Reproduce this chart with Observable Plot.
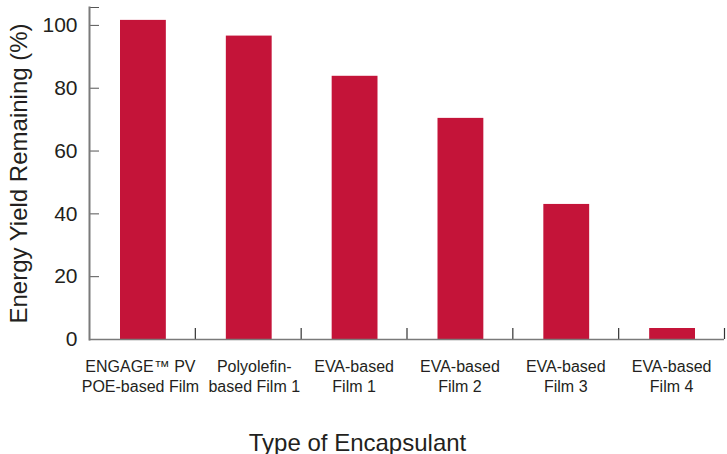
<!DOCTYPE html>
<html>
<head>
<meta charset="utf-8">
<script src="https://cdn.jsdelivr.net/npm/d3@7"></script>
<script src="https://cdn.jsdelivr.net/npm/@observablehq/plot@0.6"></script>
<style>
  html, body { margin: 0; padding: 0; background: #fff; }
  svg { display: block; }
</style>
</head>
<body>
<div id="chart"></div>
<script>
const categories = [
  "ENGAGE™ PV\nPOE-based Film",
  "Polyolefin-\nbased Film 1",
  "EVA-based\nFilm 1",
  "EVA-based\nFilm 2",
  "EVA-based\nFilm 3",
  "EVA-based\nFilm 4"
];
const values = [101.6, 96.6, 83.8, 70.4, 43.0, 3.5];
const yTicks = [0, 20, 40, 60, 80, 100];
const yMax = 105.7;
const xTitle = "Type of Encapsulant";
const yTitle = "Energy Yield Remaining (%)";

const data = categories.map((c, i) => ({category: c, value: values[i]}));

const W = 727, H = 454;
const mL = 89, mR = 3, mT = 7, mB = 115;
const bandW = (W - mL - mR) / categories.length;
const font = "'Liberation Sans', Arial, Helvetica, sans-serif";
const ink = "#231f20";
const axisGrey = "#7a7a7a";

const labelOpts = {tickSize: 0, tickPadding: 18, fontSize: 16, lineHeight: 1.25, fill: ink, label: null};

const chart = Plot.plot({
  width: W,
  height: H,
  marginLeft: mL,
  marginRight: mR,
  marginTop: mT,
  marginBottom: mB,
  style: {fontFamily: font, color: ink, background: "#fff"},
  x: {domain: categories, padding: 0, round: false},
  y: {domain: [0, yMax]},
  marks: [
    Plot.barY(data, {x: "category", y: "value", fill: "#c41439", insetLeft: 31, insetRight: 29}),
    // y ticks (inward) and labels
    Plot.axisY({
      ticks: [...yTicks, yMax],
      tickSize: -10,
      tickPadding: 22,
      tickFormat: d => yTicks.includes(d) ? String(d) : "",
      fontSize: 21,
      stroke: "#555",
      fill: ink,
      label: null
    }),
    // x tick marks at band boundaries (inward)
    Plot.ruleX(categories, {x: d => d, y1: 0, y2: 11 * yMax / (H - mT - mB), dx: bandW / 2, stroke: "#333", strokeWidth: 1.2}),
    // x tick labels
    Plot.axisX({...labelOpts, ticks: categories.filter((d, i) => i > 1)}),
    Plot.axisX({...labelOpts, ticks: [categories[0]], dx: -2}),
    Plot.axisX({...labelOpts, ticks: [categories[1]], dx: 6}),
    // axis lines (drawn last so nothing covers them)
    Plot.ruleY([0], {stroke: axisGrey, strokeWidth: 1.6}),
    Plot.frame({anchor: "left", stroke: axisGrey, strokeWidth: 2}),
    // axis titles
    Plot.text([xTitle], {frameAnchor: "bottom", lineAnchor: "bottom", dy: 111, dx: -49.5, fontSize: 24, fill: ink}),
    Plot.text([yTitle], {frameAnchor: "left", textAnchor: "middle", rotate: -90, lineAnchor: "middle", dx: -70, fontSize: 24, fill: ink})
  ]
});
document.getElementById("chart").appendChild(chart);
</script>
</body>
</html>
